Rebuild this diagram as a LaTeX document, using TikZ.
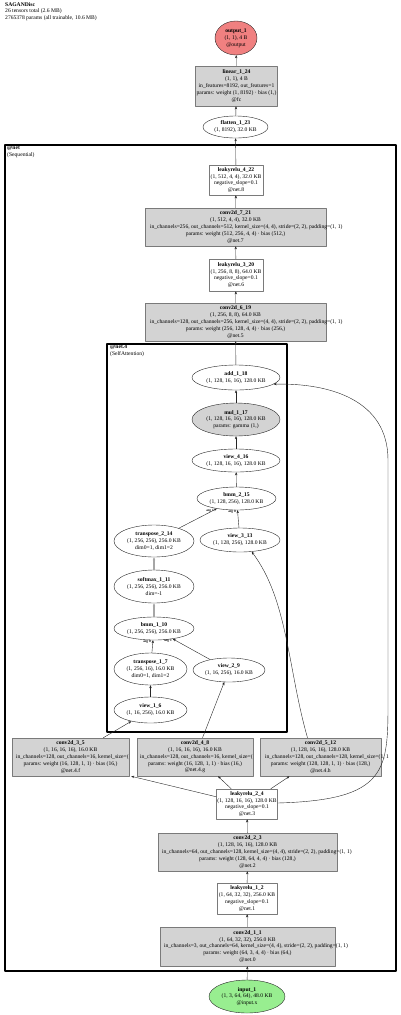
\documentclass[tikz,border=0pt]{standalone}
\usepackage{fontspec}
\setmainfont{Liberation Serif}
\usetikzlibrary{arrows.meta, calc, positioning, shapes.geometric}
\definecolor{tl-op}{HTML}{D3D3D3}
\definecolor{tl-out}{HTML}{F08080}
\definecolor{tl-in}{HTML}{98EE90}
\definecolor{tl-ink}{HTML}{262626}
\definecolor{tl-rim}{HTML}{7A7A7A}

\begin{document}
\begin{tikzpicture}[x=1pt, y=-1pt, >={Stealth[length=3pt,width=2.4pt]}, line cap=round, line join=round,
  font=\fontsize{5.6}{6.8}\selectfont,
  layer/.style={rectangle, draw=tl-rim, line width=0.5pt, fill=white, align=center, inner sep=1pt},
  opbox/.style={layer, fill=tl-op},
  blob/.style={ellipse, draw=tl-ink, line width=0.4pt, fill=white, align=center, inner sep=0pt},
  flow/.style={->, draw=tl-ink, line width=0.4pt},
  faded/.style={->, draw=black!35, line width=1.1pt},
  argl/.style={font=\fontsize{3.4}{4}\selectfont\bfseries, inner sep=0pt},
  frame/.style={draw=black, line width=1.6pt}]
  \useasboundingbox (0,0) rectangle (400,1015);
  % kopf
  \node[anchor=north west, align=left, inner sep=0pt] (head) at (5,2)
    {\textbf{SAGANDisc}\\26 tensors total (2.6 MB)\\2765378 params (all trainable, 10.6 MB)};
  % cluster
  \draw[frame] (5,145) rectangle (396,971);
  \node[anchor=north west, align=left, inner sep=0pt] (lbl-net) at (7,146) {\textbf{@net}\\(Sequential)};
  \draw[frame] (107,344) rectangle (287,732);
  \node[anchor=north west, align=left, inner sep=0pt] (lbl-att) at (110,345) {\textbf{@net.4}\\(SelfAttention)};
  % ausgang
  \node[blob, fill=tl-out, minimum width=42, minimum height=34] (out) at (236,38)
    {\textbf{output\_1}\\(1, 1), 4 B\\@output};
  \node[opbox, minimum width=79, minimum height=40] (fc) at (236.5,86)
    {\textbf{linear\_1\_24}\\(1, 1), 4 B\\in\_features=8192, out\_features=1\\params: weight (1, 8192) · bias (1,)\\@fc};
  \node[blob, minimum width=65, minimum height=22] (flat) at (235.5,127)
    {\textbf{flatten\_1\_23}\\(1, 8192), 32.0 KB};
  % net
  \node[layer, minimum width=54, minimum height=30] (lrelu4) at (236,180)
    {\textbf{leakyrelu\_4\_22}\\(1, 512, 4, 4), 32.0 KB\\negative\_slope=0.1\\@net.8};
  \node[opbox, minimum width=181, minimum height=38] (conv7) at (235.5,227)
    {\textbf{conv2d\_7\_21}\\(1, 512, 4, 4), 32.0 KB\\\makebox[171pt][l]{in\_channels=256, out\_channels=512, kernel\_size=(4, 4), stride=(2, 2), padding=(1, 1)}\\params: weight (512, 256, 4, 4) · bias (512,)\\@net.7};
  \node[layer, minimum width=54, minimum height=32] (lrelu3) at (236,275)
    {\textbf{leakyrelu\_3\_20}\\(1, 256, 8, 8), 64.0 KB\\negative\_slope=0.1\\@net.6};
  \node[opbox, minimum width=181, minimum height=38] (conv6) at (235.5,322)
    {\textbf{conv2d\_6\_19}\\(1, 256, 8, 8), 64.0 KB\\\makebox[171pt][l]{in\_channels=128, out\_channels=256, kernel\_size=(4, 4), stride=(2, 2), padding=(1, 1)}\\params: weight (256, 128, 4, 4) · bias (256,)\\@net.5};
  % self attention
  \node[blob, minimum width=88, minimum height=25] (add) at (236,377.5)
    {\textbf{add\_1\_18}\\(1, 128, 16, 16), 128.0 KB};
  \node[blob, fill=tl-op, minimum width=88, minimum height=33] (mul) at (236,419.5)
    {\textbf{mul\_1\_17}\\(1, 128, 16, 16), 128.0 KB\\params: gamma (1,)};
  \node[blob, minimum width=88, minimum height=23] (view4) at (236,460.5)
    {\textbf{view\_4\_16}\\(1, 128, 16, 16), 128.0 KB};
  \node[blob, minimum width=79, minimum height=23] (bmm2) at (236.5,498.5)
    {\textbf{bmm\_2\_15}\\(1, 128, 256), 128.0 KB};
  \node[blob, minimum width=80, minimum height=32] (tpose2) at (154,541)
    {\textbf{transpose\_2\_14}\\(1, 256, 256), 256.0 KB\\dim0=1, dim1=2};
  \node[blob, minimum width=80, minimum height=24] (view3) at (240,540)
    {\textbf{view\_3\_13}\\(1, 128, 256), 128.0 KB};
  \node[blob, minimum width=80, minimum height=33] (soft) at (154,586.5)
    {\textbf{softmax\_1\_11}\\(1, 256, 256), 256.0 KB\\dim=-1};
  \node[blob, minimum width=80, minimum height=23] (bmm1) at (154,628.5)
    {\textbf{bmm\_1\_10}\\(1, 256, 256), 256.0 KB};
  \node[blob, minimum width=73, minimum height=32] (tpose1) at (150.5,669)
    {\textbf{transpose\_1\_7}\\(1, 256, 16), 16.0 KB\\dim0=1, dim1=2};
  \node[blob, minimum width=72, minimum height=24] (view2) at (229,670)
    {\textbf{view\_2\_9}\\(1, 16, 256), 16.0 KB};
  \node[blob, minimum width=73, minimum height=26] (view1) at (150.5,710)
    {\textbf{view\_1\_6}\\(1, 16, 256), 16.0 KB};
  % projektionen
  \node[opbox, minimum width=117, minimum height=38] (conv3) at (70.5,757)
    {\textbf{conv2d\_3\_5}\\(1, 16, 16, 16), 16.0 KB\\\makebox[109pt][l]{in\_channels=128, out\_channels=16, kernel\_size=(}\\params: weight (16, 128, 1, 1) · bias (16,)\\@net.4.f};
  \node[opbox, minimum width=116, minimum height=38] (conv4) at (195,757)
    {\textbf{conv2d\_4\_8}\\(1, 16, 16, 16), 16.0 KB\\\makebox[110pt][l]{in\_channels=128, out\_channels=16, kernel\_size=(}\\params: weight (16, 128, 1, 1) · bias (16,)\\@net.4.g};
  \node[opbox, minimum width=121, minimum height=38] (conv5) at (320.5,757)
    {\textbf{conv2d\_5\_12}\\(1, 128, 16, 16), 128.0 KB\\\makebox[111pt][l]{in\_channels=128, out\_channels=128, kernel\_size=(1, 1}\\params: weight (128, 128, 1, 1) · bias (128,)\\@net.4.h};
  % eingangsseite
  \node[layer, minimum width=60, minimum height=30] (lrelu2) at (247,804)
    {\textbf{leakyrelu\_2\_4}\\(1, 128, 16, 16), 128.0 KB\\negative\_slope=0.1\\@net.3};
  \node[opbox, minimum width=179, minimum height=38] (conv2) at (247.5,852)
    {\textbf{conv2d\_2\_3}\\(1, 128, 16, 16), 128.0 KB\\\makebox[171pt][l]{in\_channels=64, out\_channels=128, kernel\_size=(4, 4), stride=(2, 2), padding=(1, 1)}\\params: weight (128, 64, 4, 4) · bias (128,)\\@net.2};
  \node[layer, minimum width=60, minimum height=31] (lrelu1) at (247,898.5)
    {\textbf{leakyrelu\_1\_2}\\(1, 64, 32, 32), 256.0 KB\\negative\_slope=0.1\\@net.1};
  \node[opbox, minimum width=175, minimum height=39] (conv1) at (247.5,946.5)
    {\textbf{conv2d\_1\_1}\\(1, 64, 32, 32), 256.0 KB\\\makebox[167pt][l]{in\_channels=3, out\_channels=64, kernel\_size=(4, 4), stride=(2, 2), padding=(1, 1)}\\params: weight (64, 3, 4, 4) · bias (64,)\\@net.0};
  \node[blob, fill=tl-in, minimum width=76, minimum height=33] (inp) at (247,996.5)
    {\textbf{input\_1}\\(1, 3, 64, 64), 48.0 KB\\@input.x};
  % kanten
  \draw[flow] (inp) -- (conv1);
  \draw[flow] (conv1) -- (lrelu1);
  \draw[flow] (lrelu1) -- (conv2);
  \draw[flow] (conv2) -- (lrelu2);
  \draw[flow] ([yshift=-8pt]lrelu2.north west) -- ([xshift=2pt]conv3.south east);
  \draw[flow] ([xshift=15pt]lrelu2.north west) -- ([xshift=23pt]conv4.south);
  \draw[flow] ([xshift=-7pt]lrelu2.north east) -- ([xshift=-31pt]conv5.south);
  \draw[flow] ([yshift=1pt]lrelu2.east) .. controls (388,800) and (388,770) .. (388,700)
    -- (388,460) .. controls (388,400) and (330,383) .. (add.-10);
  \draw[flow] (conv3) -- (view1);
  \draw[flow] (conv4) -- (view2);
  \draw[flow] ([xshift=-13pt]conv5.north) .. controls (288,670) and (288,600) .. (view3.-45);
  \draw[flow] (view1) -- (tpose1);
  \draw[flow] (tpose1) -- (bmm1);
  \draw[flow] (view2) -- (bmm1);
  \draw[faded] (bmm1) -- (soft);
  \draw[faded] (soft) -- (tpose2);
  \draw[flow] (tpose2) -- (bmm2);
  \draw[flow] (view3) -- (bmm2);
  \draw[flow] (bmm2) -- (view4);
  \draw[flow] (view4) -- (mul);
  \draw[flow] (mul) -- (add);
  \draw[flow] (add) -- (conv6);
  \draw[flow] (conv6) -- (lrelu3);
  \draw[flow] (lrelu3) -- (conv7);
  \draw[flow] (conv7) -- (lrelu4);
  \draw[flow] (lrelu4) -- (flat);
  \draw[flow] (flat) -- (fc);
  \draw[flow] (fc) -- (out);
  % argumente
  \node[argl] (arg-b1-0) at (147,642) {arg 0};
  \node[argl] (arg-b1-1) at (168,641) {arg 1};
  \node[argl] (arg-b2-1) at (210,510.5) {arg 1};
  \node[argl] (arg-b2-0) at (232,511.5) {arg 0};
\end{tikzpicture}
\end{document}
